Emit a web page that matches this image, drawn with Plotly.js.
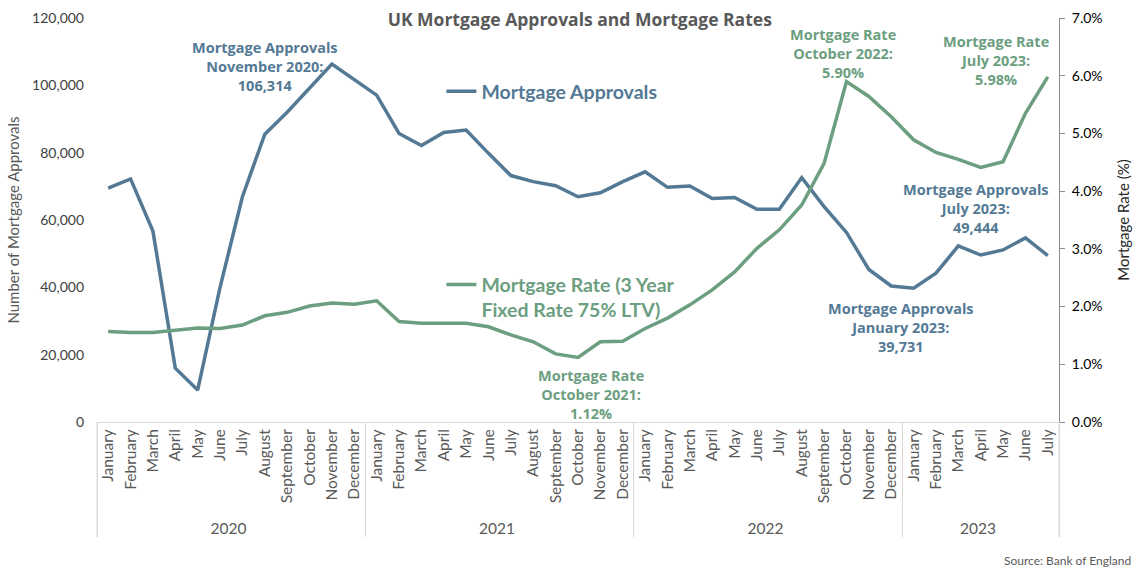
<!DOCTYPE html>
<html>
<head>
<meta charset="utf-8">
<script src="https://cdn.plot.ly/plotly-3.0.1.min.js"></script>
<style>html,body{margin:0;padding:0;background:#fff;}#chart{width:1139px;height:567px;}</style>
</head>
<body>
<div id="chart"></div>
<script>
const years = ["2020","2020","2020","2020","2020","2020","2020","2020","2020","2020","2020","2020",
  "2021","2021","2021","2021","2021","2021","2021","2021","2021","2021","2021","2021",
  "2022","2022","2022","2022","2022","2022","2022","2022","2022","2022","2022","2022",
  "2023","2023","2023","2023","2023","2023","2023"];
const monthNames = ["January","February","March","April","May","June","July","August","September","October","November","December"];
const months = years.map((y, i) => monthNames[i % 12]);

const approvals = [69500, 72200, 56700, 16000, 9500, 40000, 66900, 85500, 92000, 99000, 106314, 101700,
  97100, 85700, 82100, 86000, 86700, 79800, 73200, 71400, 70200, 66900, 68100, 71400,
  74300, 69700, 70100, 66400, 66700, 63200, 63200, 72600, 64000, 56300, 45300, 40400,
  39731, 44200, 52300, 49600, 51100, 54700, 49444];

const rate = [1.57, 1.55, 1.55, 1.59, 1.63, 1.62, 1.68, 1.84, 1.90, 2.01, 2.06, 2.04,
  2.10, 1.74, 1.71, 1.71, 1.71, 1.65, 1.51, 1.39, 1.18, 1.12, 1.39, 1.40,
  1.62, 1.80, 2.03, 2.29, 2.60, 3.01, 3.33, 3.76, 4.48, 5.90, 5.64, 5.29,
  4.89, 4.67, 4.55, 4.41, 4.51, 5.35, 5.98];

const leftTicks = [0, 20000, 40000, 60000, 80000, 100000, 120000];
const rightTicks = [0, 0.01, 0.02, 0.03, 0.04, 0.05, 0.06, 0.07];

const BLUE = "#537995";
const GREEN = "#6c9e80";
const FONT = "Lato, 'Open Sans', sans-serif";
const AFONT = "'Open Sans', Lato, sans-serif";

const traces = [
  {
    x: [years, months], y: approvals, type: "scatter", mode: "lines",
    name: "Mortgage Approvals", line: {color: BLUE, width: 3.5},
    yaxis: "y", legend: "legend", hoverinfo: "skip"
  },
  {
    x: [years, months], y: rate.map(v => v / 100), type: "scatter", mode: "lines",
    name: "Mortgage Rate (3 Year<br>Fixed Rate 75% LTV)", line: {color: GREEN, width: 3.5},
    yaxis: "y2", legend: "legend2", hoverinfo: "skip"
  }
];

const yr = i => years[i], mo = i => months[i];
function ann(i, yval, yref, text, color, ay, xshift) {
  return {x: [yr(i), mo(i)], y: yval, xref: "x", yref: yref, text: text, showarrow: false,
    font: {family: AFONT, size: 14.5, color: color, weight: "bold"}, align: "center",
    yshift: ay, xshift: xshift || 0};
}

const layout = {
  width: 1139, height: 567,
  margin: {l: 97, r: 80, t: 18, b: 145},
  paper_bgcolor: "#fff", plot_bgcolor: "#fff",
  font: {family: FONT, color: "#595959"},
  showlegend: true,
  title: {text: "UK Mortgage Approvals and Mortgage Rates", x: 0.509, xanchor: "center", y: 0.965, yanchor: "middle",
    font: {family: AFONT, size: 17.5, color: "#595959", weight: "bold"}},
  xaxis: {
    type: "multicategory", range: [-0.5, years.length - 0.5], autorange: false,
    showgrid: false, zeroline: false,
    showline: true, linecolor: "#d9d9d9", linewidth: 1,
    tickangle: -90, tickfont: {family: FONT, size: 15.5, color: "#595959"},
    showdividers: true, dividercolor: "#d9d9d9", dividerwidth: 1,
    ticks: "", fixedrange: true
  },
  yaxis: {
    range: [0, 120000], tickvals: leftTicks, tickformat: ",d", showgrid: false, zeroline: false,
    showline: false, ticks: "", ticklabelstandoff: 12,
    tickfont: {family: FONT, size: 14, color: "#404040"},
    title: {text: "Number of Mortgage Approvals", standoff: 8, font: {family: FONT, size: 15, color: "#595959"}}
  },
  yaxis2: {
    overlaying: "y", side: "right", range: [0, 0.07], tickvals: rightTicks, tickformat: ".1%",
    showgrid: false, zeroline: false, showline: true, linecolor: "#8c8c8c", linewidth: 1,
    ticks: "outside", ticklen: 5, tickcolor: "#8c8c8c", ticklabelstandoff: 4,
    tickfont: {family: FONT, size: 14, color: "#000"},
    title: {text: "Mortgage Rate (%)", standoff: 16, font: {family: FONT, size: 15, color: "#262626"}}
  },
  legend: {x: 0.358, y: 0.866, xanchor: "left", yanchor: "top", bgcolor: "rgba(0,0,0,0)",
    font: {family: FONT, size: 19.5, color: BLUE, weight: "bold"}, itemclick: false, itemdoubleclick: false},
  legend2: {x: 0.358, y: 0.388, xanchor: "left", yanchor: "top", bgcolor: "rgba(0,0,0,0)", valign: "top",
    font: {family: FONT, size: 19.5, color: GREEN, weight: "bold"}, itemclick: false, itemdoubleclick: false},
  shapes: [
    {type: "line", xref: "paper", yref: "paper", x0: 0, x1: 0, y0: 0, y1: -0.285, line: {color: "#d9d9d9", width: 1}},
    {type: "line", xref: "paper", yref: "paper", x0: 1, x1: 1, y0: 0, y1: -0.285, line: {color: "#d9d9d9", width: 1}}
  ],
  annotations: [
    ann(10, approvals[10], "y", "Mortgage Approvals<br>November 2020:<br>106,314", BLUE, -2, -67),
    ann(21, rate[21] / 100, "y2", "Mortgage Rate<br>October 2021:<br>1.12%", GREEN, -37, 13),
    ann(33, rate[33] / 100, "y2", "Mortgage Rate<br>October 2022:<br>5.90%", GREEN, 28, -3),
    ann(42, rate[42] / 100, "y2", "Mortgage Rate<br>July 2023:<br>5.98%", GREEN, 16, -52),
    ann(42, approvals[42] / 1, "y", "Mortgage Approvals<br>July 2023:<br>49,444", BLUE, 47, -72),
    ann(36, approvals[36], "y", "Mortgage Approvals<br>January 2023:<br>39,731", BLUE, -39, -13),
    {xref: "paper", yref: "paper", x: 1.077, y: -0.342, xanchor: "right", yanchor: "middle", showarrow: false,
      text: "Source: Bank of England", font: {family: FONT, size: 12, color: "#595959"}}
  ]
};

Plotly.newPlot("chart", traces, layout, {displayModeBar: false, staticPlot: true});
</script>
</body>
</html>
